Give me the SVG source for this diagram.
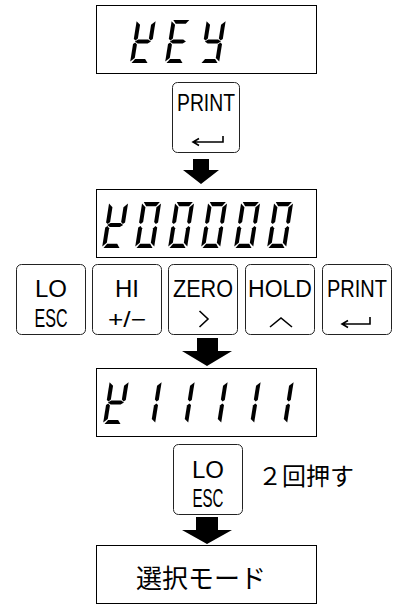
<svg xmlns="http://www.w3.org/2000/svg" xmlns:xlink="http://www.w3.org/1999/xlink" width="395" height="605" viewBox="0 0 395 605">
<style>
.box{fill:#fff;stroke:#000;stroke-width:1}
.key{fill:#fff;stroke:#222;stroke-width:1}
.l1{font-family:"Liberation Sans",Arial,sans-serif;font-size:24px;text-anchor:middle;fill:#000}
.l2{font-family:"Liberation Sans",Arial,sans-serif;font-size:26px;text-anchor:middle;fill:#000}
.pm{font-family:"Liberation Sans",Arial,sans-serif;font-size:22px;text-anchor:middle;fill:#000}
.ico{fill:none;stroke:#000;stroke-width:1.6;stroke-linejoin:miter}
.jp{font-family:"Noto Sans CJK JP",sans-serif;fill:#000}
.seg{fill:#000}
.arrow{fill:#000}
</style>
<defs>
<polygon id="sa" class="seg" points="1.5,-44 17.5,-44 14.5,-40 4.5,-40"/>
<polygon id="sd" class="seg" points="4.5,-4 14.5,-4 17.5,0 1.5,0"/>
<polygon id="sg" class="seg" points="1.5,-22 4.5,-24 14.5,-24 17.5,-22 14.5,-20 4.5,-20"/>
<polygon id="sf" class="seg" points="0,-42.5 4,-39 4,-25 2,-23 0,-24.5"/>
<polygon id="sb" class="seg" points="19,-42.5 15,-39 15,-25 17,-23 19,-24.5"/>
<polygon id="se" class="seg" points="0,-19.5 2,-21 4,-19 4,-5 0,-1.5"/>
<polygon id="sc" class="seg" points="19,-19.5 17,-21 15,-19 15,-5 19,-1.5"/>
<g id="dK"><use href="#sb"/><use href="#sd"/><use href="#se"/><use href="#sf"/><use href="#sg"/></g>
<g id="dE"><use href="#sa"/><use href="#sd"/><use href="#se"/><use href="#sf"/><use href="#sg"/></g>
<g id="dY"><use href="#sb"/><use href="#sc"/><use href="#sd"/><use href="#sf"/><use href="#sg"/></g>
<g id="d0"><use href="#sa"/><use href="#sb"/><use href="#sc"/><use href="#sd"/><use href="#se"/><use href="#sf"/></g>
<g id="d1"><use href="#sb"/><use href="#sc"/></g>
</defs>

<g id="display-key">
<rect class="box" x="96.5" y="5.5" width="220" height="68"/>
<use href="#dK" transform="translate(130,63) skewX(-9) scale(1,0.98)"/>
<use href="#dE" transform="translate(165,63) skewX(-9) scale(1,0.98)"/>
<use href="#dY" transform="translate(200,63) skewX(-9) scale(1,0.98)"/>
</g>

<g id="key-print-top">
<rect class="key" x="172.5" y="82.5" width="67" height="70" rx="5"/>
<text class="l1" x="206" y="111" textLength="58" lengthAdjust="spacingAndGlyphs" style="font-size:23px">PRINT</text>
<path class="ico" d="M193,142 H223 V136 M199,138.5 L193,142 L199,145.5"/>
</g>

<g id="display-k00000">
<rect class="box" x="96.5" y="189.5" width="220" height="68"/>
<use href="#dK" transform="translate(102,248) skewX(-9) scale(1,1.045)"/>
<use href="#d0" transform="translate(135,248) skewX(-9) scale(1,1.045)"/>
<use href="#d0" transform="translate(168,248) skewX(-9) scale(1,1.045)"/>
<use href="#d0" transform="translate(201,248) skewX(-9) scale(1,1.045)"/>
<use href="#d0" transform="translate(234,248) skewX(-9) scale(1,1.045)"/>
<use href="#d0" transform="translate(267,248) skewX(-9) scale(1,1.045)"/>
</g>

<g id="key-lo">
<rect class="key" x="16.5" y="264.5" width="69" height="70" rx="5"/>
<text class="l1" x="51" y="297">LO</text>
<text class="l2" x="51" y="327" textLength="33" lengthAdjust="spacingAndGlyphs">ESC</text>
</g>
<g id="key-hi">
<rect class="key" x="92.5" y="264.5" width="69" height="70" rx="5"/>
<text class="l1" x="127" y="297">HI</text>
<text class="pm" x="127" y="327" textLength="38" lengthAdjust="spacingAndGlyphs">+/−</text>
</g>
<g id="key-zero">
<rect class="key" x="168.5" y="264.5" width="69" height="70" rx="5"/>
<text class="l1" x="203" y="297" textLength="60" lengthAdjust="spacingAndGlyphs" style="font-size:23px">ZERO</text>
<path class="ico" d="M199.5,311 L208,319 L199.5,327"/>
</g>
<g id="key-hold">
<rect class="key" x="245.5" y="264.5" width="69" height="70" rx="5"/>
<text class="l1" x="280" y="297" textLength="64" lengthAdjust="spacingAndGlyphs" style="font-size:23px">HOLD</text>
<path class="ico" d="M270,327 L281,318 L292,327"/>
</g>
<g id="key-print">
<rect class="key" x="322.5" y="264.5" width="69" height="70" rx="5"/>
<text class="l1" x="357" y="297" textLength="60" lengthAdjust="spacingAndGlyphs" style="font-size:23px">PRINT</text>
<path class="ico" d="M342,324 H370 V317 M348,320.5 L342,324 L348,327.5"/>
</g>

<g id="display-k11111">
<rect class="box" x="96.5" y="368.5" width="220" height="68"/>
<use href="#dK" transform="translate(103,424) skewX(-9) scale(1,0.98)"/>
<use href="#d1" transform="translate(136,424) skewX(-9) scale(1,0.98)"/>
<use href="#d1" transform="translate(169,424) skewX(-9) scale(1,0.98)"/>
<use href="#d1" transform="translate(202,424) skewX(-9) scale(1,0.98)"/>
<use href="#d1" transform="translate(235,424) skewX(-9) scale(1,0.98)"/>
<use href="#d1" transform="translate(268,424) skewX(-9) scale(1,0.98)"/>
</g>

<g id="key-lo-2">
<rect class="key" x="173.5" y="444.5" width="69" height="70" rx="5"/>
<text class="l1" x="208" y="478">LO</text>
<text class="l2" x="208" y="507" textLength="31" lengthAdjust="spacingAndGlyphs">ESC</text>
</g>
<g id="note-twice">
<text class="jp" x="258" y="485" style="font-size:24px">２回押す</text>
</g>

<g id="mode-select">
<rect class="box" x="96.5" y="545.5" width="220" height="58"/>
<text class="jp" x="136" y="588" style="font-size:26px">選択モード</text>
</g>

<g id="connectors">
<polygon class="arrow" points="193,159 209,159 209,170 219,170 201,184 183,170 193,170"/>
<polygon class="arrow" points="197,338 218,338 218,351 232,351 207,366 182,351 197,351"/>
<polygon class="arrow" points="196,517 218,517 218,530 232,530 207,544 182,530 196,530"/>
</g>
</svg>
